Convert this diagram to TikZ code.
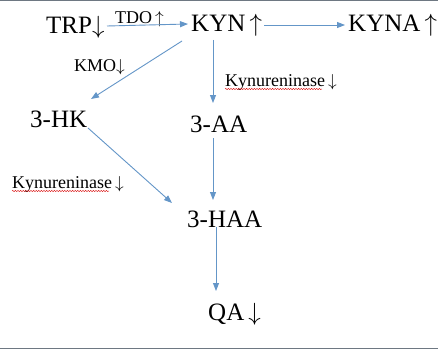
\documentclass[tikz,border=0pt]{standalone}
\usepackage{fontspec}
\setmainfont{Liberation Serif}
\usetikzlibrary{arrows.meta,decorations.pathmorphing}
\definecolor{arrblue}{RGB}{100,150,200}
\definecolor{frame}{RGB}{110,120,130}
\newcommand{\up}{$\uparrow$}
\newcommand{\dn}{$\downarrow$}
\begin{document}
\begin{tikzpicture}[x=1pt,y=-1pt,
  big/.style={inner sep=0pt,anchor=base west,font=\fontsize{25}{28}\selectfont},
  small/.style={inner sep=0pt,anchor=base west,font=\fontsize{18}{21}\selectfont},
  arr/.style={draw=arrblue,line width=0.9pt,-{Triangle[length=8pt,width=6pt]}},
  squig/.style={draw=red!85!black,line width=0.4pt,decorate,decoration={snake,amplitude=0.6pt,segment length=2.6pt}}]
\useasboundingbox (0,0) rectangle (438,350);
\fill[white] (0,0) rectangle (438,350);
\draw[frame,line width=1pt] (0,0.5) -- (438,0.5);
\draw[frame,line width=1.5pt] (0,348.5) -- (438,348.5);
% nodes
\node[big]   (TRP)  at (46,34)  {TRP\dn};
\node[small] (TDO)  at (115,24) {TDO\,\up};
\node[big]   (KYN)  at (191,32) {KYN\,\up};
\node[big]   (KYNA) at (348,32) {KYNA\,\up};
\node[small] (KMO)  at (74,72)  {KMO\dn};
\node[small] (KYNR) at (225,86) {Kynureninase\,\dn};
\node[big]   (HK)   at (30,127) {3-HK};
\node[big]   (AA)   at (190,132) {3-AA};
\node[small] (KYNL) at (12,188) {Kynureninase\,\dn};
\node[big]   (HAA)  at (187,227) {3-HAA};
\node[big]   (QA)   at (208,320) {QA\,\dn};
% connectors
\draw[arr] ([xshift=61pt,yshift=8pt]TRP.base west) -- ([xshift=-3pt,yshift=8pt]KYN.base west);
\draw[arr] ([xshift=73pt,yshift=7pt]KYN.base west) -- ([xshift=-3pt,yshift=7pt]KYNA.base west);
\draw[arr] ([xshift=-9pt,yshift=-9pt]KYN.base west) -- ([xshift=61pt,yshift=28pt]HK.base west);
\draw[arr] ([xshift=22pt,yshift=-8pt]KYN.base west) -- ([xshift=23pt,yshift=29pt]AA.base west);
\draw[arr] ([xshift=23pt,yshift=-6pt]AA.base west) -- ([xshift=26pt,yshift=27pt]HAA.base west);
\draw[arr] ([xshift=58pt,yshift=-1pt]HK.base west) -- ([xshift=-15pt,yshift=24pt]HAA.base west);
\draw[arr] ([xshift=29pt,yshift=0pt]HAA.base west) -- ([xshift=8pt,yshift=29pt]QA.base west);
% spell-check squiggles
\draw[squig] ([yshift=-3pt]KYNR.base west) -- ([xshift=-15pt,yshift=-3pt]KYNR.base east);
\draw[squig] ([yshift=-3pt]KYNL.base west) -- ([xshift=-15pt,yshift=-3pt]KYNL.base east);
\end{tikzpicture}
\end{document}
